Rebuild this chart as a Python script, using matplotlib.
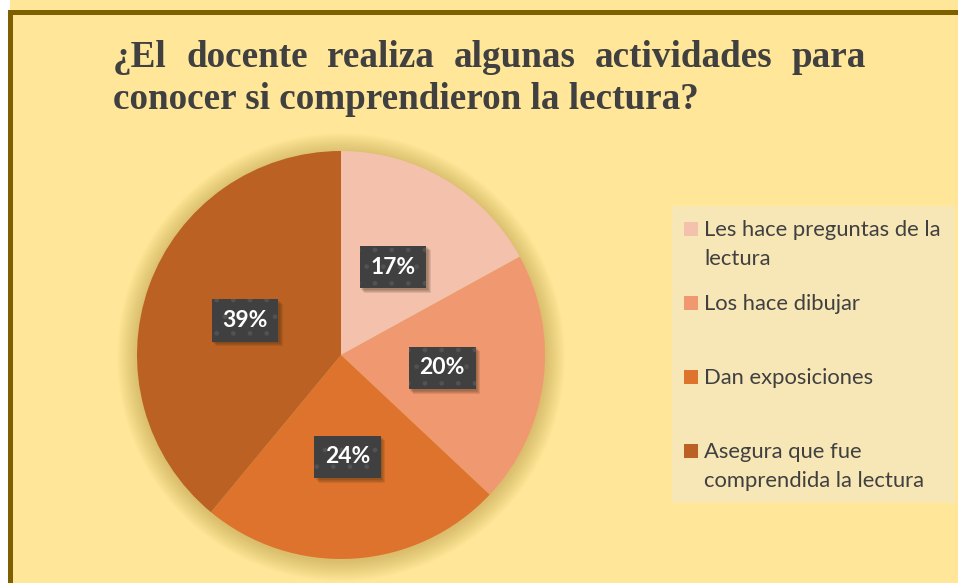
import matplotlib
matplotlib.use("Agg")
import matplotlib.pyplot as plt
from matplotlib.lines import Line2D
from matplotlib.patches import Rectangle, Circle
from matplotlib.transforms import IdentityTransform

W, H = 958, 583

title_line_1 = "¿El docente realiza algunas actividades para"
title_line_2 = "conocer si comprendieron la lectura?"

categories = [
    "Les hace preguntas de la\nlectura",
    "Los hace dibujar",
    "Dan exposiciones",
    "Asegura que fue\ncomprendida la lectura",
]
percentages = [17, 20, 24, 39]
slice_colors = ["#F4C1AD", "#F09870", "#DE732D", "#BA6123"]


def px(x, y):
    """Pixel position (from top-left) to figure fraction."""
    return x / W, 1 - y / H


def draw_title(fig):
    """Two-line bold serif title, first line justified."""
    style = dict(fontsize=26.7, fontweight="bold", color="#404040",
                 family="Liberation Serif", va="baseline", ha="left")
    renderer = fig.canvas.get_renderer()
    words = title_line_1.split()
    texts = [fig.text(0, 0, w, **style) for w in words]
    widths = [t.get_window_extent(renderer).width for t in texts]
    left, right = 113, 866
    gap = (right - left - sum(widths)) / (len(words) - 1)
    x = left
    for t, w in zip(texts, widths):
        t.set_position(px(x, 67))
        x += w + gap
    fig.text(*px(left, 109), title_line_2, **style)


def draw_legend(fig):
    """Legend box on the right with square markers."""
    fig.add_artist(Rectangle(px(672, 503), (955 - 672) / W, (503 - 206) / H,
                             transform=fig.transFigure, facecolor="#F8E7B6",
                             edgecolor="none", zorder=1))
    centers = [229, 302.5, 376.5, 451]
    sq = 14
    for label, color, cy in zip(categories, slice_colors, centers):
        fig.add_artist(Rectangle(px(684, cy + sq / 2), sq / W, sq / H,
                                 transform=fig.transFigure, facecolor=color,
                                 edgecolor="none", zorder=2))
        for i, line in enumerate(label.split("\n")):
            fig.text(*px(704, cy + 7.5 + 28.5 * i), line, fontsize=15.8,
                     family="Lato", color="#404040", va="baseline",
                     ha="left", zorder=3)


fig = plt.figure(figsize=(W / 100, H / 100), dpi=100, facecolor="white")

# fondo amarillo y borde (solo izquierda y arriba se ven)
fig.add_artist(Rectangle(px(9.8, H + 20), 1.05, 1.05,
                         transform=fig.transFigure, facecolor="#FFE699",
                         edgecolor="none", zorder=0))
bx, by = px(9.8, 11.8)
fig.add_artist(Line2D([bx, bx, 1.05], [-0.05, by, by],
                      transform=fig.transFigure, color="#7F6000",
                      linewidth=3.6, solid_joinstyle="miter", zorder=0.5))

# pastel
R, cx, cy, lim = 204, 341, 355, 1.2
ax = fig.add_axes([(cx - R * lim) / W, 1 - (cy + R * lim) / H,
                   2 * R * lim / W, 2 * R * lim / H])
for i in range(14):
    ax.add_patch(Circle((0, -0.01), 1.0 + 0.0075 * i, facecolor="#9C7A1E",
                        edgecolor="none", alpha=0.026, zorder=0))

wedges, autotexts = ax.pie(
    percentages, colors=slice_colors, startangle=90, counterclock=False,
    autopct=lambda p: f"{p:.0f}%", pctdistance=0.5,
    wedgeprops=dict(linewidth=0),
    textprops=dict(color="white", fontsize=16.5, fontweight="bold",
                   family="Lato", zorder=5))[0::2]

ax.set_xlim(-lim, lim)
ax.set_ylim(-lim, lim)
ax.axis("off")

for t in autotexts:
    t.set_bbox(dict(boxstyle="square,pad=0.47", facecolor="#404040",
                    edgecolor="#525252", hatch=".", linewidth=0))

# sombra difusa de las etiquetas
fig.canvas.draw()
renderer = fig.canvas.get_renderer()
for t in autotexts:
    bb = t.get_bbox_patch().get_window_extent(renderer)
    for o in (1.5, 2.5, 3.5, 4.5):
        ax.add_patch(Rectangle((bb.x0 + o, bb.y0 - o), bb.width, bb.height,
                               transform=IdentityTransform(),
                               facecolor="#3A2A10", alpha=0.12,
                               edgecolor="none", zorder=3))

draw_title(fig)
draw_legend(fig)

fig.savefig("out.png", dpi=100, facecolor="white")
